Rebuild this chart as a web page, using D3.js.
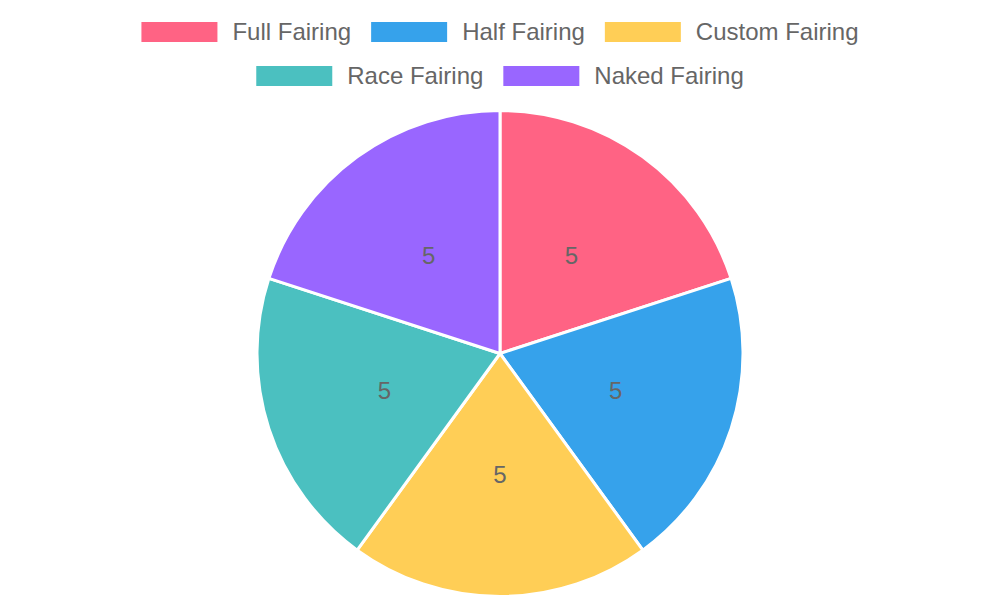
<!DOCTYPE html>
<html><head><meta charset="utf-8">
<script src="https://cdn.jsdelivr.net/npm/d3@7"></script>
<style>body{margin:0;background:#fff}svg{display:block}</style>
</head><body>
<svg id="c" width="1000" height="600"></svg>
<script>
const categories = ["Full Fairing","Half Fairing","Custom Fairing","Race Fairing","Naked Fairing"];
const values = [5,5,5,5,5];
const colors = ["#FF6384","#36A2EB","#FFCE56","#4BC0C0","#9966FF"];

const svg = d3.select("#c");
const W = 1000, cx = 500, cy = 353.5, R = 243;
const font = "Liberation Sans, Arial, sans-serif";

// Legend
const rows = [[0,1,2],[3,4]];
const rowY = [32, 76];
const boxW = 76, boxH = 20, textGap = 15, itemGap = 20, fs = 24;
rows.forEach((row, ri) => {
  const g = svg.append("g");
  let x = 0;
  row.forEach(i => {
    const it = g.append("g").attr("transform", `translate(${x},0)`);
    it.append("rect").attr("x",0).attr("y",rowY[ri]-boxH/2).attr("width",boxW).attr("height",boxH).attr("fill",colors[i]);
    const t = it.append("text").attr("x", boxW+textGap).attr("y", rowY[ri]).attr("dy","0.35em")
      .attr("font-family",font).attr("font-size",fs).attr("fill","#666").text(categories[i]);
    x += boxW + textGap + t.node().getComputedTextLength() + itemGap;
  });
  const total = x - itemGap;
  g.attr("transform", `translate(${(W-total)/2},0)`);
});

// Pie
const pie = d3.pie().sort(null).value(d => d)(values);
const arc = d3.arc().innerRadius(0).outerRadius(R);
const labelArc = d3.arc().innerRadius(R/2).outerRadius(R/2);
const pg = svg.append("g").attr("transform", `translate(${cx},${cy})`);
pg.selectAll("path").data(pie).join("path")
  .attr("d", arc).attr("fill", (d,i) => colors[i])
  .attr("stroke","#fff").attr("stroke-width",3).attr("stroke-linejoin","round");
pg.selectAll("text").data(pie).join("text")
  .attr("transform", d => `translate(${labelArc.centroid(d)})`)
  .attr("text-anchor","middle").attr("dy","0.35em")
  .attr("font-family",font).attr("font-size",24).attr("fill","#666")
  .text(d => d.data);
</script>
</body></html>
